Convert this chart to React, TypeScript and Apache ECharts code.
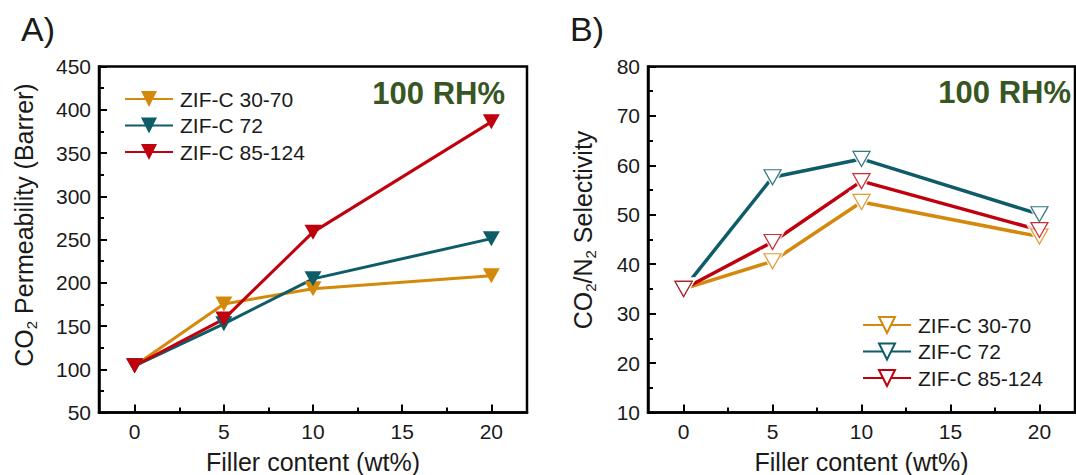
import React, { useEffect, useRef } from 'react';
import * as echarts from 'echarts';

const fillerContent = [0, 5, 10, 20];
const seriesNames = ['ZIF-C 30-70', 'ZIF-C 72', 'ZIF-C 85-124'];
const permeability3070 = [104, 175.5, 193, 208];
const permeability72 = [104, 152.5, 204.5, 251];
const permeability85124 = [104, 158, 258.5, 386];
const selectivity3070 = [35, 40.6, 52.6, 45.6];
const selectivity72 = [35, 57.6, 61.3, 50.1];
const selectivity85124 = [35, 44.5, 56.8, 46.9];
const xTickValues = [0, 5, 10, 15, 20];
const xMinorTickValues = [2.5, 7.5, 12.5, 17.5];
const colors = ['#d4890c', '#0d5c68', '#c0000c'];

const FONT = 'Liberation Sans, Arial, sans-serif';
const TXT = '#1a1a1a';
const TRI = 'path://M0,0L16,0L8,14Z';

const zip = (xs: number[], ys: number[]) => xs.map((x, i) => [x, ys[i]]);

export default function App() {
  const ref = useRef<HTMLDivElement>(null);
  useEffect(() => {
    if (!ref.current) return;
    const chart = echarts.init(ref.current, undefined, { renderer: 'svg' });
    const permSets = [permeability3070, permeability72, permeability85124];
    const selSets = [selectivity3070, selectivity72, selectivity85124];

    const makeX = (grid: number) => [
      {
        type: 'value', gridIndex: grid, min: -2, max: 22, position: 'bottom',
        axisLine: { onZero: false, lineStyle: { color: '#000', width: 2.5 } },
        axisTick: { inside: true, length: 8, customValues: xTickValues, lineStyle: { color: '#000', width: 2 } },
        axisLabel: { customValues: xTickValues, fontSize: 21, fontFamily: FONT, color: TXT, margin: 8 },
        splitLine: { show: false },
      },
      {
        type: 'value', gridIndex: grid, min: -2, max: 22, position: 'bottom',
        axisLine: { show: false, onZero: false },
        axisTick: { show: true, inside: true, length: 5, customValues: xMinorTickValues, lineStyle: { color: '#000', width: 2 } },
        axisLabel: { show: false },
        splitLine: { show: false },
      },
    ];
    const makeY = (grid: number, min: number, max: number, interval: number) => ({
      type: 'value', gridIndex: grid, min, max, interval,
      axisLine: { show: true, onZero: false, lineStyle: { color: '#000', width: 2.5 } },
      axisTick: { show: true, inside: true, length: 8, lineStyle: { color: '#000', width: 2 } },
      minorTick: { show: true, splitNumber: 2, length: 5, lineStyle: { color: '#000', width: 2 } },
      axisLabel: { fontSize: 21, fontFamily: FONT, color: TXT, margin: 8 },
      splitLine: { show: false },
    });

    const series: any[] = [];
    seriesNames.forEach((name, i) => {
      series.push({
        type: 'line', name, xAxisIndex: 0, yAxisIndex: 0,
        data: zip(fillerContent, permSets[i]),
        symbol: TRI, symbolSize: [17, 15],
        lineStyle: { color: colors[i], width: 3 },
        itemStyle: { color: colors[i] },
        z: 2,
      });
    });
    seriesNames.forEach((name, i) => {
      series.push({
        type: 'line', name: 'B|' + name, xAxisIndex: 2, yAxisIndex: 1,
        data: zip(fillerContent, selSets[i]),
        symbol: TRI, symbolSize: [17, 15],
        lineStyle: { color: colors[i], width: 3.5 },
        itemStyle: { color: '#fff', borderColor: colors[i], borderWidth: 1.2 },
        z: 2,
      });
    });
    seriesNames.forEach((name, i) => {
      series.push({
        type: 'scatter', name: 'gap' + i, xAxisIndex: 2, yAxisIndex: 1,
        data: zip(fillerContent, selSets[i]),
        symbol: TRI, symbolSize: [26, 23],
        itemStyle: { color: '#fff' }, silent: true, z: 3,
      });
    });
    seriesNames.forEach((name, i) => {
      series.push({
        type: 'scatter', name: 'mark' + i, xAxisIndex: 2, yAxisIndex: 1,
        data: zip(fillerContent, selSets[i]),
        symbol: TRI, symbolSize: [17, 15],
        itemStyle: { color: '#fff', borderColor: colors[i], borderWidth: 1.2 }, silent: true, z: 4,
      });
    });

    const legendCommon = {
      orient: 'vertical', itemWidth: 48, itemHeight: 20, itemGap: 5.5, padding: 0,
      selectedMode: false,
      textStyle: { fontSize: 21, fontFamily: FONT, color: TXT, lineHeight: 21, padding: [0, 0, 0, 2] },
    };

    const textEl = (text: string, x: number, y: number, extra: any = {}) => ({
      type: 'text', x, y, silent: true,
      style: { text, fontSize: 25, fontFamily: FONT, fill: TXT, textAlign: 'center', textVerticalAlign: 'middle', ...extra },
    });

    const yName = (text: string, x: number, y: number) => ({
      type: 'text', x, y, rotation: Math.PI / 2, silent: true,
      style: {
        text, fontSize: 25, fontFamily: FONT, fill: TXT, lineHeight: 30,
        textAlign: 'center', textVerticalAlign: 'middle',
        rich: { sub: { fontSize: 15, fontFamily: FONT, fill: TXT, lineHeight: 20, verticalAlign: 'bottom' } },
      },
    });

    chart.setOption({
      animation: false,
      backgroundColor: '#fff',
      grid: [
        { left: 99, top: 66.5, width: 428, height: 346, show: true, borderColor: '#000', borderWidth: 2.5, containLabel: false },
        { left: 648, top: 66.5, width: 427, height: 346, show: true, borderColor: '#000', borderWidth: 2.5, containLabel: false },
      ],
      xAxis: [...makeX(0), ...makeX(1)],
      yAxis: [makeY(0, 50, 450, 50), makeY(1, 10, 80, 10)],
      legend: [
        { ...legendCommon, left: 124, top: 88.5, data: seriesNames },
        { ...legendCommon, left: 862, top: 314.5, data: seriesNames.map((n) => 'B|' + n), formatter: (n: string) => n.replace('B|', '') },
      ],
      series,
      graphic: [
        textEl('A)', 21, 29, { fontSize: 34, textAlign: 'left' }),
        textEl('B)', 570, 29, { fontSize: 34, textAlign: 'left' }),
        textEl('100 RH%', 505, 93, { fontSize: 31, fontWeight: 'bold', fill: '#375623', textAlign: 'right' }),
        textEl('100 RH%', 1071, 92, { fontSize: 31, fontWeight: 'bold', fill: '#375623', textAlign: 'right' }),
        textEl('Filler content (wt%)', 313, 462),
        textEl('Filler content (wt%)', 861.5, 462),
        yName('CO{sub|2} Permeability (Barrer)', 23.5, 225),
        yName('CO{sub|2}/N{sub|2} Selectivity', 583, 230),
      ],
    });
    return () => chart.dispose();
  }, []);
  return <div ref={ref} style={{ position: 'fixed', left: 0, top: 0, width: 1076, height: 475 }} />;
}
